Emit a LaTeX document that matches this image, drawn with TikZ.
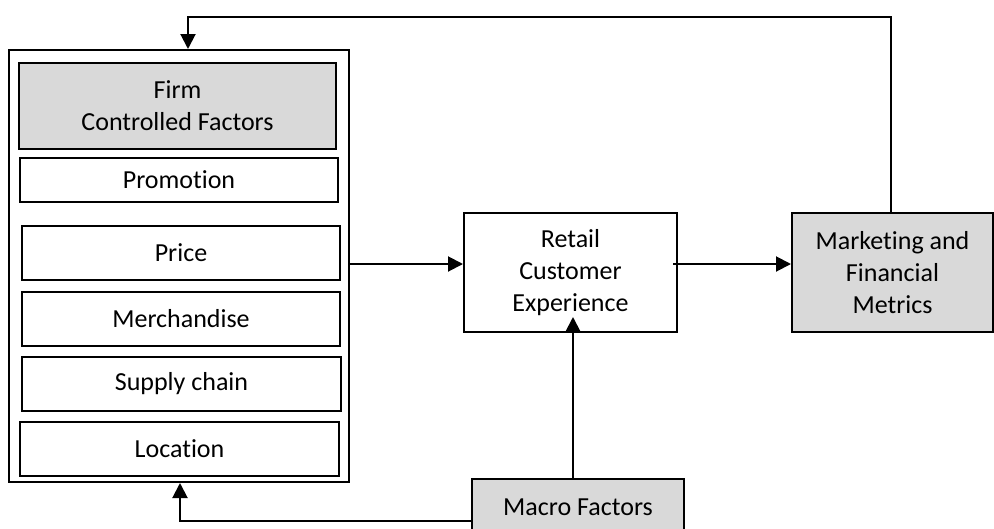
\documentclass[tikz,border=0pt]{standalone}
\usepackage{fontspec}
\setmainfont{Carlito}[Ligatures=NoCommon]
\usepackage{xcolor}
\usepackage{tikz}
\usetikzlibrary{arrows.meta}
\usetikzlibrary{positioning}

\definecolor{boxgray}{HTML}{D9D9D9}

\begin{document}
\begin{tikzpicture}[x=1pt,y=-1pt,line width=2pt,
  arr/.style={-{Triangle[length=15pt,width=15pt]}},
  main node/.style={rectangle,draw,fill=white,align=center,inner sep=0pt,
    font=\fontsize{26}{32}\selectfont},
  item node/.style={main node,minimum width=318pt,minimum height=54pt},
  gray node/.style={main node,fill=boxgray}]

  \useasboundingbox (0,0) rectangle (994,528);

  % left block
  \node[main node,minimum width=340pt,minimum height=432pt] (outer) at (179,266) {};
  \node[gray node,minimum width=317pt,minimum height=86pt] (firm) at (177.5,106) {Firm\\Controlled Factors};
  \node[item node,minimum height=44pt] (promo) at (179,180) {Promotion};
  \node[item node] (price) at (181,253) {Price};
  \node[item node] (merch) at (181,319) {Merchandise};
  \node[item node,minimum width=319pt] (supply) at (181.5,384) {Supply chain};
  \node[item node,minimum width=319pt] (loc) at (179.5,449) {Location};

  \node[main node,minimum width=213pt,minimum height=119pt] (retail) at (570.5,272.5) {Retail\\Customer\\Experience};
  \node[gray node,minimum width=201pt,minimum height=119pt] (metrics) at (892.5,272.5) {Marketing and\\Financial\\Metrics};
  \node[gray node,minimum width=212pt,minimum height=56pt] (macro) at (578,507) {Macro Factors};

  \coordinate (row) at (0,264);
  \coordinate (top) at (188,17);
  \coordinate (mup) at (573,317);
  \coordinate (low) at (180,521);

  \draw[arr] (outer.east |- row) -- (retail.west |- row);
  \draw[arr] (673,264) -- (metrics.west |- row);
  \draw[arr] (metrics.north -| 891,0) |- (top) -- (top |- outer.north);
  \draw[arr] (mup |- macro.north) -- (mup);
  \draw[arr] (macro.west |- low) -- (low) -- (low |- outer.south);
\end{tikzpicture}
\end{document}
